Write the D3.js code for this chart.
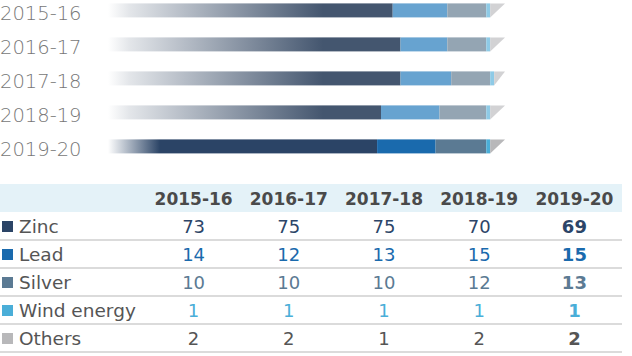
<!DOCTYPE html>
<html><head><meta charset="utf-8">
<script src="https://cdn.jsdelivr.net/npm/d3@7"></script>
<style>html,body{margin:0;padding:0;background:#fff;}svg{display:block;}</style>
</head><body>
<svg id="chart" width="632" height="356"></svg>
<script>
// ---- data ----
const years = ["2015-16", "2016-17", "2017-18", "2018-19", "2019-20"];
const categories = ["Zinc", "Lead", "Silver", "Wind energy", "Others"];
const zinc   = [73, 75, 75, 70, 69];
const lead   = [14, 12, 13, 15, 15];
const silver = [10, 10, 10, 12, 13];
const wind   = [1, 1, 1, 1, 1];
const others = [2, 2, 1, 2, 2];

const seriesValues = [zinc, lead, silver, wind, others];
const keys = ["zinc", "lead", "silver", "wind", "others"];
const rows = years.map((y, i) => {
  const o = {year: y};
  keys.forEach((k, j) => o[k] = seriesValues[j][i]);
  return o;
});

// colours
const currentColors = ["#2b4466", "#1a6aad", "#5b7a93", "#4aaed8", "#b8b8ba"];
const pastColors    = ["#44566f", "#67a3d0", "#94a5b3", "#8ecae6", "#d2d2d4"];
const valueColors   = ["#2c4568", "#1a6aad", "#5b7a93", "#4aaed8", "#555555"];

const svg = d3.select("#chart");
const defs = svg.append("defs");

// ---- bar chart ----
const x = d3.scaleLinear().domain([0, 100]).range([108, 498]);
const yc = d3.scalePoint().domain(years).range([10.4, 146.4]);
const barH = 14;

const stack = d3.stack().keys(keys);
const stacked = stack(rows);

years.forEach((yr, i) => {
  const last = i === years.length - 1;
  const g = defs.append("linearGradient")
    .attr("id", "grad" + i)
    .attr("gradientUnits", "userSpaceOnUse")
    .attr("x1", x(0)).attr("x2", last ? x(0) + 52 : x(0) + 215)
    .attr("y1", 0).attr("y2", 0);
  const c = last ? currentColors[0] : pastColors[0];
  g.append("stop").attr("offset", 0).attr("stop-color", c).attr("stop-opacity", 0);
  g.append("stop").attr("offset", last ? 0.15 : 0.1).attr("stop-color", c).attr("stop-opacity", 0.15);
  g.append("stop").attr("offset", 1).attr("stop-color", c).attr("stop-opacity", 1);
});

const bars = svg.append("g");
stacked.forEach((layer, k) => {
  layer.forEach((d, i) => {
    const last = i === years.length - 1;
    const col = last ? currentColors[k] : pastColors[k];
    const top = yc(years[i]) - barH / 2;
    const x0 = x(d[0]), x1 = x(d[1]);
    if (keys[k] === "others") {
      bars.append("path")
        .attr("d", `M${x0},${top}L${x1 + 7},${top}L${x0},${top + barH}Z`)
        .attr("fill", col);
    } else {
      bars.append("rect")
        .attr("x", x0).attr("y", top)
        .attr("width", Math.max(0, x1 - x0)).attr("height", barH)
        .attr("fill", k === 0 ? `url(#grad${i})` : col);
    }
  });
});

// year labels
svg.append("g").selectAll("text").data(years).join("text")
  .attr("x", 0).attr("y", d => yc(d) + 4)
  .attr("dominant-baseline", "middle")
  .attr("font-family", "DejaVu Sans, sans-serif")
  .attr("font-weight", 200)
  .attr("font-size", 19.5)
  .attr("fill", "#777")
  .text(d => d);

// ---- table ----
const col = d3.scaleBand().domain(years).range([146, 622]);
const rowY = d3.scaleBand().domain(categories).range([212, 352]);

svg.append("rect").attr("x", 0).attr("y", 184).attr("width", 622).attr("height", 28)
  .attr("fill", "#e4f2f8");

svg.append("g").selectAll("text").data(years).join("text")
  .attr("x", d => col(d) + col.bandwidth() / 2)
  .attr("y", 200)
  .attr("text-anchor", "middle").attr("dominant-baseline", "middle")
  .attr("font-family", "DejaVu Sans, sans-serif").attr("font-weight", "bold")
  .attr("font-size", 17).attr("fill", "#4a4a4a")
  .text(d => d);

const tbl = svg.append("g");
categories.forEach((cat, k) => {
  const y0 = rowY(cat);
  const cy = y0 + rowY.bandwidth() / 2 + 1.5;
  tbl.append("rect").attr("x", 2).attr("y", cy - 6.5).attr("width", 11).attr("height", 11)
    .attr("fill", currentColors[k]);
  tbl.append("text").attr("x", 19).attr("y", cy)
    .attr("dominant-baseline", "middle")
    .attr("font-family", "DejaVu Sans, sans-serif").attr("font-size", 18.5)
    .attr("fill", "#555").text(cat);
  years.forEach((yr, i) => {
    tbl.append("text")
      .attr("x", col(yr) + col.bandwidth() / 2).attr("y", cy)
      .attr("text-anchor", "middle").attr("dominant-baseline", "middle")
      .attr("font-family", "DejaVu Sans, sans-serif").attr("font-size", 18)
      .attr("font-weight", i === years.length - 1 ? "bold" : "normal")
      .attr("fill", valueColors[k])
      .text(seriesValues[k][i]);
  });
  tbl.append("line").attr("x1", 0).attr("x2", 622)
    .attr("y1", y0 + rowY.bandwidth()).attr("y2", y0 + rowY.bandwidth())
    .attr("stroke", "#cfcfcf").attr("stroke-width", 1.5);
});
</script>
</body></html>
